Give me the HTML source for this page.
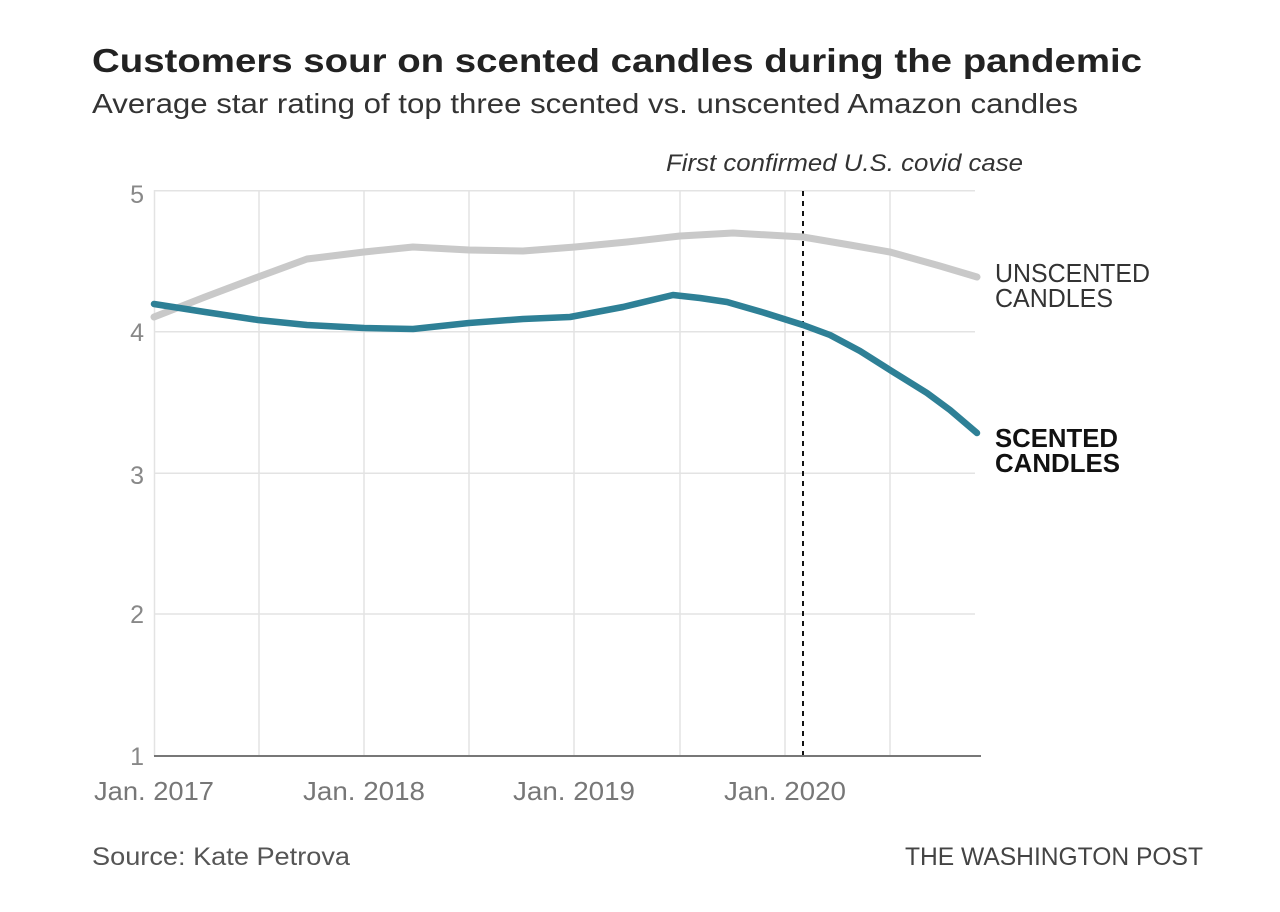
<!DOCTYPE html>
<html><head><meta charset="utf-8"><style>
html,body{margin:0;padding:0;background:#fff;}
svg{display:block;}
text{font-family:"Liberation Sans",sans-serif;}
</style></head><body>
<svg width="1280" height="912" viewBox="0 0 1280 912" xmlns="http://www.w3.org/2000/svg">
<rect width="1280" height="912" fill="#fff"/>
<text x="92" y="72" font-size="33" font-weight="bold" fill="#222" textLength="1050" lengthAdjust="spacingAndGlyphs">Customers sour on scented candles during the pandemic</text>
<text x="92" y="113" font-size="28" fill="#333" textLength="986" lengthAdjust="spacingAndGlyphs">Average star rating of top three scented vs. unscented Amazon candles</text>
<text x="666" y="171" font-size="24" font-style="italic" fill="#333" textLength="357" lengthAdjust="spacingAndGlyphs">First confirmed U.S. covid case</text>
<g stroke="#e3e3e3" stroke-width="1.5">
<line x1="154" y1="190.7" x2="975" y2="190.7"/>
<line x1="154" y1="331.7" x2="975" y2="331.7"/>
<line x1="154" y1="473.3" x2="975" y2="473.3"/>
<line x1="154" y1="614" x2="975" y2="614"/>
<line x1="154.5" y1="190" x2="154.5" y2="756"/>
<line x1="259" y1="190" x2="259" y2="756"/>
<line x1="364" y1="190" x2="364" y2="756"/>
<line x1="469" y1="190" x2="469" y2="756"/>
<line x1="574" y1="190" x2="574" y2="756"/>
<line x1="680" y1="190" x2="680" y2="756"/>
<line x1="785" y1="190" x2="785" y2="756"/>
<line x1="890" y1="190" x2="890" y2="756"/>
</g>
<line x1="154" y1="756" x2="981" y2="756" stroke="#777" stroke-width="2"/>
<line x1="803" y1="191" x2="803" y2="755" stroke="#111" stroke-width="2" stroke-dasharray="5 5"/>
<polyline fill="none" stroke="#c9c9c9" stroke-width="7" stroke-linecap="round" stroke-linejoin="round" points="154,317 205,297 258,277 307,259 364,252 413,247 469,250 523,251 575,247 627,242 680,236 733,233 803,237 850,245 890,252 940,266 977,277"/>
<polyline fill="none" stroke="#2e8096" stroke-width="6.5" stroke-linecap="round" stroke-linejoin="round" points="154,304 205,312 258,320 307,325 364,328 413,329 469,323 523,319 570,317 623,307 673,295 700,298 727,302 765,313 803,325 830,335 860,351 890,370 927,393 950,410 977,433"/>
<g font-size="25" fill="#888" text-anchor="end">
<text x="144" y="203">5</text>
<text x="144" y="341">4</text>
<text x="144" y="484">3</text>
<text x="144" y="623">2</text>
<text x="144" y="765">1</text>
</g>
<g font-size="26" fill="#777" text-anchor="middle">
<text x="154" y="800" textLength="120" lengthAdjust="spacingAndGlyphs">Jan. 2017</text>
<text x="364" y="800" textLength="122" lengthAdjust="spacingAndGlyphs">Jan. 2018</text>
<text x="574" y="800" textLength="122" lengthAdjust="spacingAndGlyphs">Jan. 2019</text>
<text x="785" y="800" textLength="122" lengthAdjust="spacingAndGlyphs">Jan. 2020</text>
</g>
<g font-size="26" fill="#333">
<text x="995" y="282" textLength="155" lengthAdjust="spacingAndGlyphs">UNSCENTED</text>
<text x="995" y="307" textLength="118" lengthAdjust="spacingAndGlyphs">CANDLES</text>
</g>
<g font-size="26" font-weight="bold" fill="#111">
<text x="995" y="447" textLength="123" lengthAdjust="spacingAndGlyphs">SCENTED</text>
<text x="995" y="472" textLength="125" lengthAdjust="spacingAndGlyphs">CANDLES</text>
</g>
<text x="92" y="865" font-size="25" fill="#555" textLength="258" lengthAdjust="spacingAndGlyphs">Source: Kate Petrova</text>
<text x="905" y="865" font-size="25" fill="#444" textLength="298" lengthAdjust="spacingAndGlyphs">THE WASHINGTON POST</text>
</svg>
</body></html>
